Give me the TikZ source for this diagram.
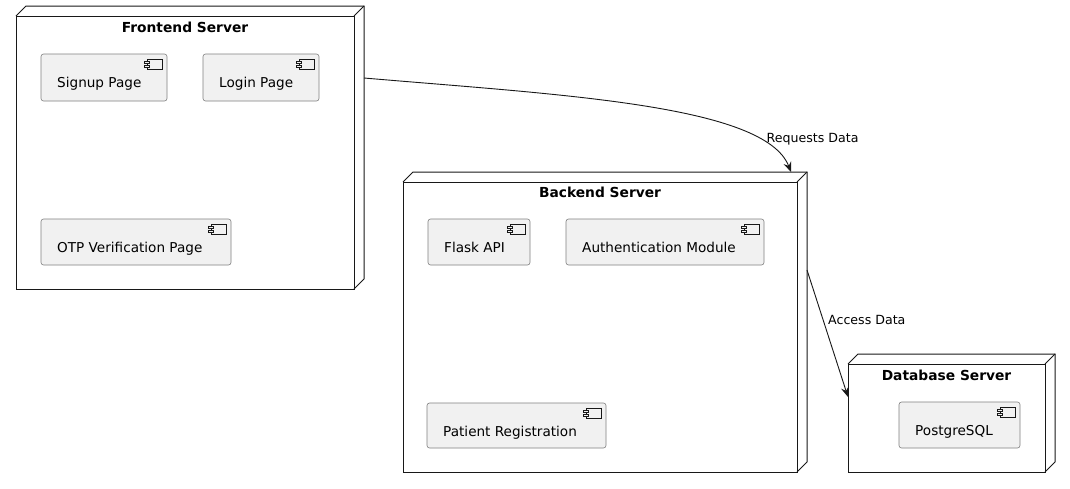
\documentclass[tikz,border=0pt]{standalone}
\usepackage{fontspec}
\setmainfont{DejaVu Sans}
\usetikzlibrary{arrows.meta,calc}
\definecolor{compfill}{HTML}{F1F1F1}
\definecolor{compline}{HTML}{808080}
\definecolor{ink}{HTML}{181818}
\tikzset{
  serverface/.style={draw=ink, line width=1pt, fill=white, inner sep=0pt, outer sep=0pt},
  serveredge/.style={draw=ink, line width=1pt},
  compbox/.style={draw=compline, line width=0.6pt, fill=compfill, rounded corners=2.5pt, inner sep=0pt, outer sep=0pt},
  iconline/.style={draw=ink, line width=0.5pt, fill=compfill},
  comptext/.style={inner sep=0pt, font=\fontsize{13.6}{16}\selectfont, text=black},
  titletext/.style={inner sep=0pt, font=\fontsize{13.8}{16}\selectfont\bfseries, text=black},
  lbl/.style={inner sep=0pt, font=\fontsize{12.6}{15}\selectfont, text=black},
  arr/.style={draw=ink, line width=0.9pt, -{Stealth[length=10pt,width=8pt,inset=3.5pt]}}
}
% server node: name, x, y, w, h, title, title offset
\newcommand{\servernode}[7]{%
  \node[serverface, anchor=north west, minimum width=#4pt, minimum height=#5pt] (#1) at (#2,#3) {};
  \draw[serveredge] (#1.north west) -- ++(10,-10) -- ($(#1.north east)+(10,-10)$) -- ($(#1.south east)+(10,-10)$) -- (#1.south east);
  \draw[serveredge] (#1.north east) -- ++(10,-10);
  \node[titletext, anchor=base] (#1T) at ($(#1.north)+(0,#7)$) {#6};
}
% component: name, x, y, w, h, text
\newcommand{\compnode}[6]{%
  \node[compbox, anchor=north west, minimum width=#4pt, minimum height=#5pt] (#1) at (#2,#3) {};
  \draw[iconline] ($(#1.north east)+(-20,5)$) rectangle ++(15,10);
  \draw[iconline] ($(#1.north east)+(-23,7)$) rectangle ++(5,2);
  \draw[iconline] ($(#1.north east)+(-23,11)$) rectangle ++(5,2);
  \node[comptext, anchor=base west] (#1T) at ($(#1.north west)+(16,33)$) {#6};
}
\begin{document}
\begin{tikzpicture}[x=1pt,y=-1pt]
\useasboundingbox (0,0) rectangle (1070,488);
\fill[white] (0,0) rectangle (1070,488);

\servernode{fe}{16}{16}{338}{273}{Frontend Server}{16}
\compnode{signup}{41}{54}{126}{47}{Signup Page}
\compnode{login}{203}{54}{116}{47}{Login Page}
\compnode{otp}{41}{219}{190}{46}{OTP Verification Page}

\servernode{be}{403}{182}{394}{290}{Backend Server}{15.5}
\compnode{flask}{428}{219}{102}{46}{Flask API}
\compnode{auth}{566}{219}{198}{46}{Authentication Module}
\compnode{patient}{427}{403}{179}{45}{Patient Registration}

\servernode{db}{848}{364}{197}{108}{Database Server}{16}
\compnode{pg}{899}{402}{121}{46}{PostgreSQL}

\coordinate (feout) at ($(fe.north east)+(10,62)$);
\coordinate (bein) at ($(be.north east)+(-6,-10)$);
\coordinate (beout) at ($(be.north east)+(10,88)$);
\coordinate (dbin) at ($(db.north west)+(0,33)$);

\draw[arr] (feout) .. controls (563,95) and (765,105) .. (bein);
\draw[arr] (beout) -- (dbin);

\node[lbl, anchor=base west] (l1) at (766.5,142) {Requests Data};
\node[lbl, anchor=base west] (l2) at (828,324.5) {Access Data};
\end{tikzpicture}
\end{document}
